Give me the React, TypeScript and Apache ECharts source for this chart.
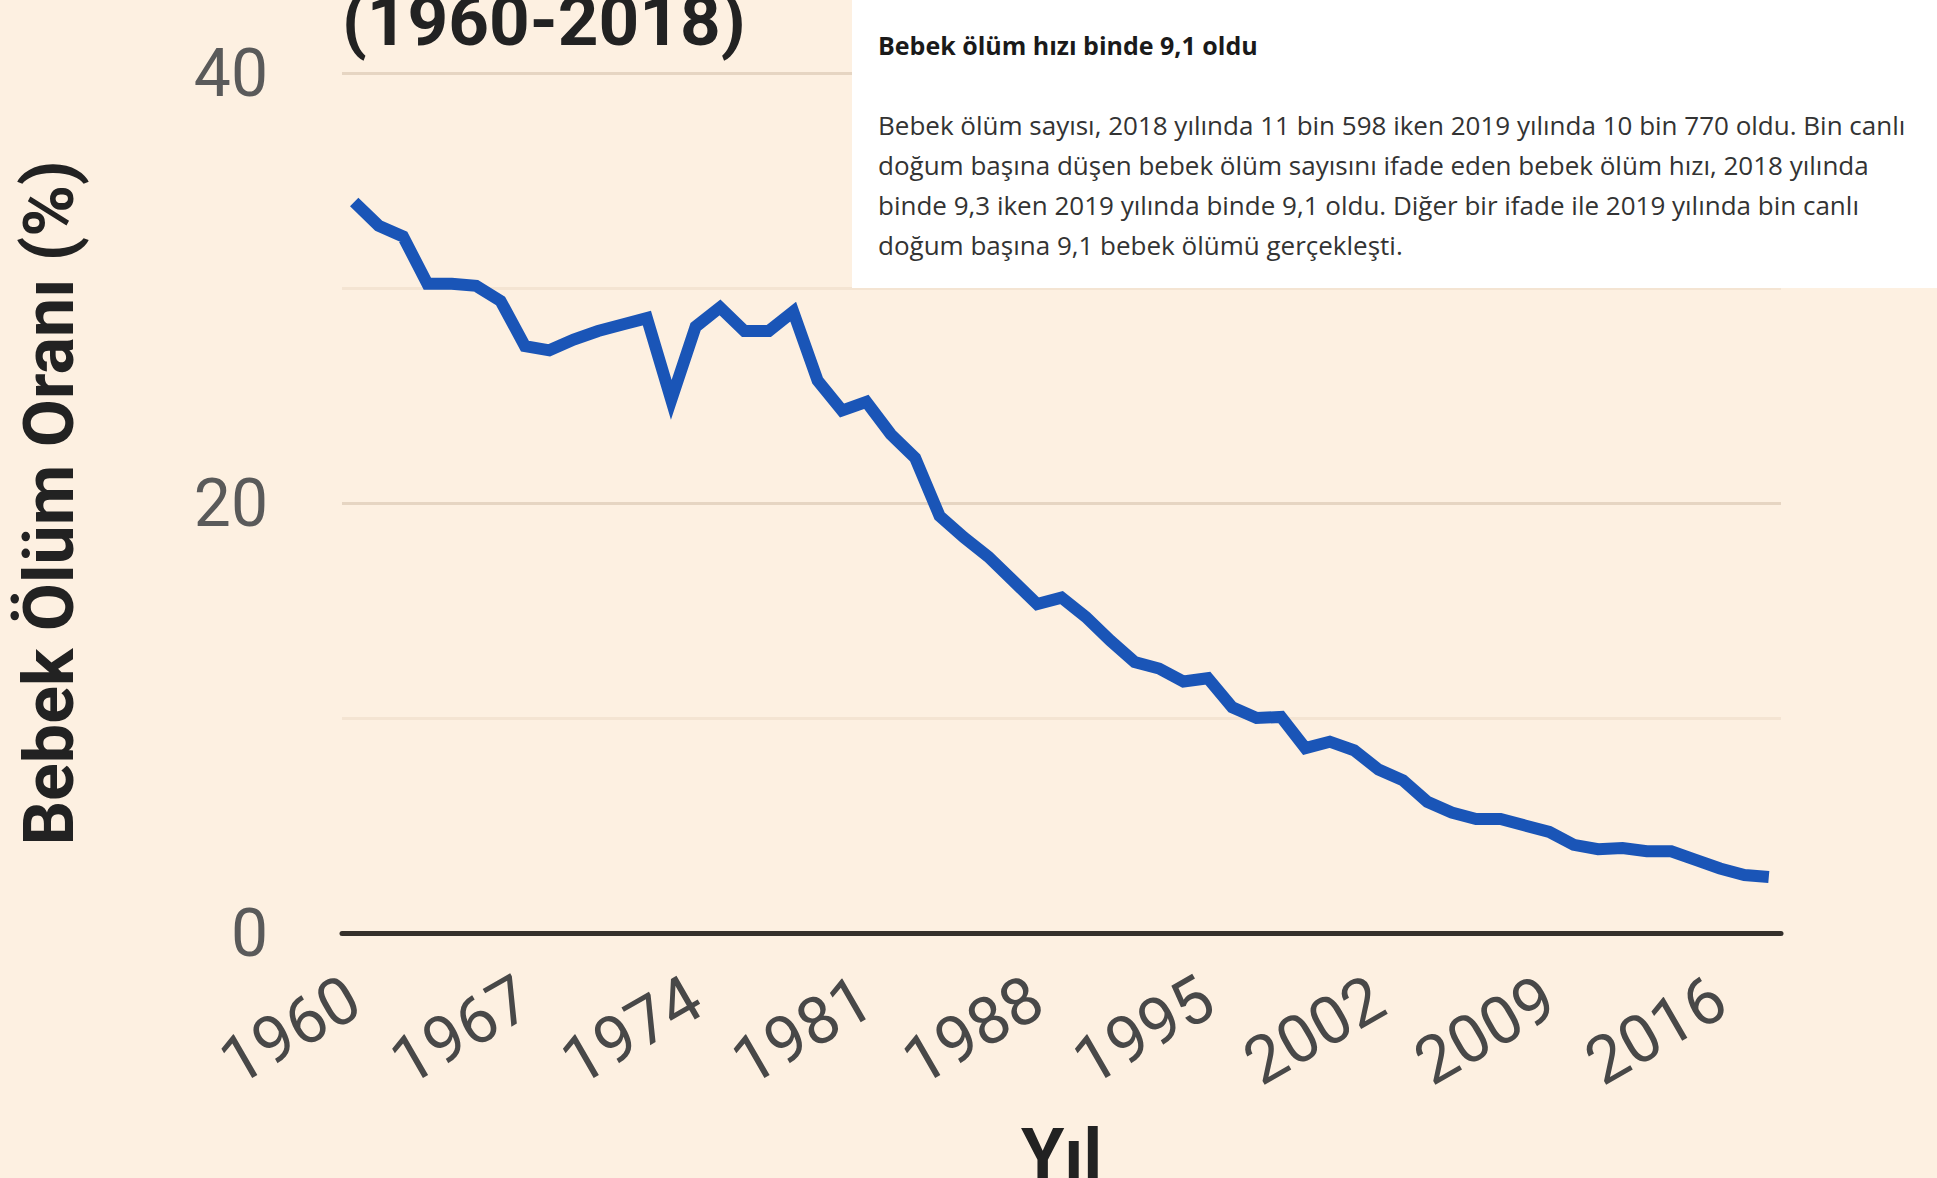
import React, { useEffect, useRef } from "react";
import * as echarts from "echarts";

const years: string[] = [];
for (let y = 1960; y <= 2018; y++) years.push(String(y));

const rates = [
  34.0, 32.9, 32.4, 30.2, 30.2, 30.1, 29.4, 27.3, 27.1, 27.6,
  28.0, 28.3, 28.6, 24.8, 28.2, 29.1, 28.0, 28.0, 28.9, 25.7,
  24.3, 24.7, 23.2, 22.1, 19.4, 18.4, 17.5, 16.4, 15.3, 15.6,
  14.7, 13.6, 12.6, 12.3, 11.7, 11.85, 10.5, 10.0, 10.05, 8.6,
  8.9, 8.5, 7.6, 7.1, 6.1, 5.6, 5.3, 5.3, 5.0, 4.7,
  4.1, 3.9, 3.95, 3.8, 3.8, 3.4, 3.0, 2.7, 2.6,
];

const titleText = "(1960-2018)";
const yAxisName = "Bebek Ölüm Oranı (%)";
const xAxisName = "Yıl";
const boxHeading = "Bebek ölüm hızı binde 9,1 oldu";
const boxLines = [
  "Bebek ölüm sayısı, 2018 yılında 11 bin 598 iken 2019 yılında 10 bin 770 oldu. Bin canlı",
  "doğum başına düşen bebek ölüm sayısını ifade eden bebek ölüm hızı, 2018 yılında",
  "binde 9,3 iken 2019 yılında binde 9,1 oldu. Diğer bir ifade ile 2019 yılında bin canlı",
  "doğum başına 9,1 bebek ölümü gerçekleşti.",
];

export default function App() {
  const ref = useRef<HTMLDivElement>(null);
  useEffect(() => {
    if (!ref.current) return;
    const chart = echarts.init(ref.current, undefined, { renderer: "svg" });
    chart.setOption({
      animation: false,
      backgroundColor: "#FDF0E1",
      grid: {
        left: 342,
        right: 156,
        top: 73,
        bottom: 245,
        containLabel: false,
        outerBoundsMode: "none",
      },
      xAxis: {
        type: "category",
        data: years,
        boundaryGap: true,
        name: xAxisName,
        nameLocation: "middle",
        nameGap: 186,
        nameTextStyle: { fontFamily: "Roboto", fontWeight: "bold", fontSize: 70, color: "#222" },
        axisLine: { show: true, lineStyle: { color: "#35302b", width: 5 } },
        axisTick: { show: false },
        splitLine: { show: false },
        axisLabel: {
          interval: 6,
          rotate: 30,
          margin: 60,
          fontFamily: "Roboto",
          fontSize: 66,
          color: "#484848",
        },
      },
      yAxis: {
        type: "value",
        min: 0,
        max: 40,
        interval: 20,
        name: yAxisName,
        nameLocation: "middle",
        nameGap: 258,
        nameRotate: 90,
        nameTextStyle: { fontFamily: "Roboto", fontWeight: "bold", fontSize: 70, color: "#222" },
        axisLine: { show: false },
        axisTick: { show: false },
        minorTick: { show: false, splitNumber: 2 },
        axisLabel: { margin: 74, fontFamily: "Roboto", fontSize: 66, color: "#5a5a5a" },
        splitLine: { show: true, lineStyle: { color: "#E6D5C2", width: 3 } },
        minorSplitLine: { show: true, lineStyle: { color: "#F4E4D2", width: 3 } },
      },
      series: [
        {
          type: "line",
          data: rates,
          symbol: "none",
          lineStyle: { color: "#1A55B7", width: 12, join: "miter", cap: "butt" },
          z: 5,
        },
      ],
      graphic: [
        {
          type: "text",
          left: 342,
          top: -15,
          style: {
            text: titleText,
            font: "bold 71px Roboto",
            fill: "#222",
          },
          z: 10,
        },
        {
          type: "rect",
          shape: { x: 852, y: 0, width: 1085, height: 288 },
          style: { fill: "#ffffff" },
          z: 20,
        },
        {
          type: "text",
          x: 878,
          y: 45,
          style: {
            text: boxHeading,
            font: "bold 25px 'Open Sans'",
            fill: "#1a1a1a",
            verticalAlign: "middle",
          },
          z: 21,
        },
        ...boxLines.map((t, i) => ({
          type: "text",
          x: 878,
          y: 125 + i * 40,
          style: {
            text: t,
            font: "26px 'Open Sans'",
            fill: "#333",
            verticalAlign: "middle",
          },
          z: 21,
        })),
      ],
    });
    return () => chart.dispose();
  }, []);
  return (
    <div
      ref={ref}
      style={{ position: "fixed", left: 0, top: 0, width: 1937, height: 1178 }}
    />
  );
}
